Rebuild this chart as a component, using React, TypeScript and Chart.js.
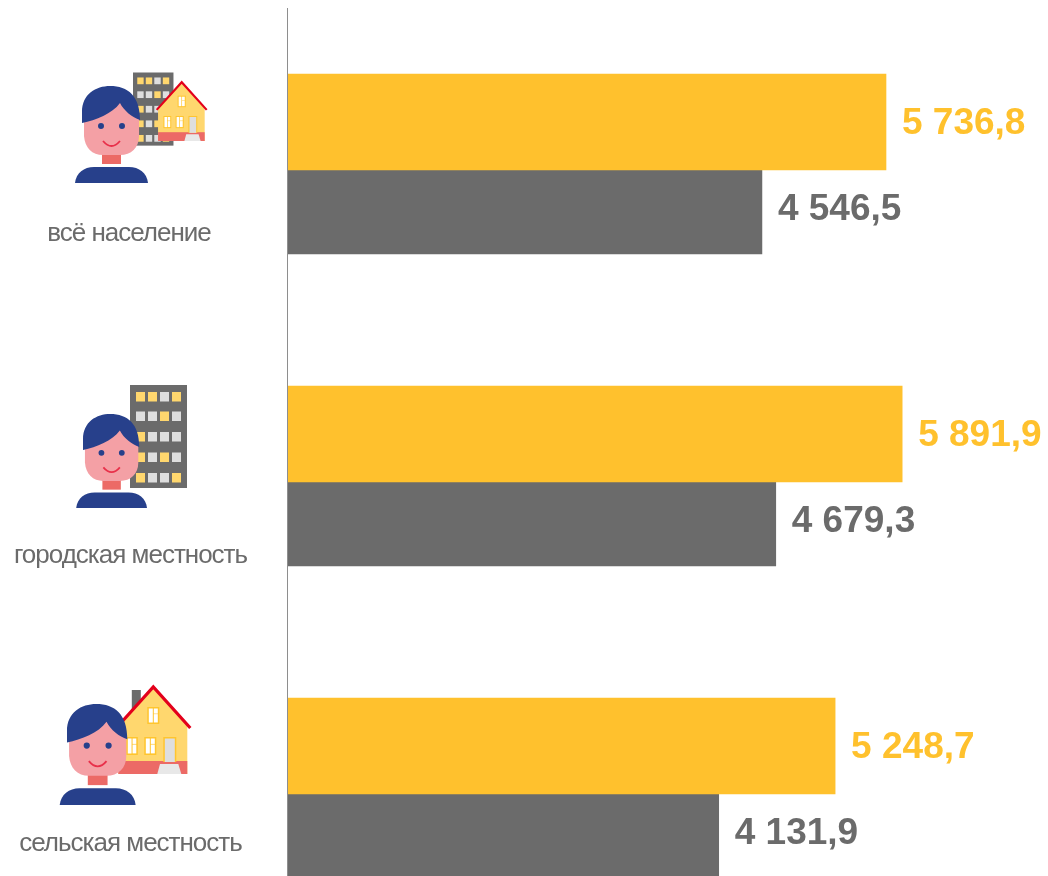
import React, { useEffect, useRef } from "react";
import { Chart, registerables } from "chart.js";

Chart.register(...registerables);

const categories = ["всё население", "городская местность", "сельская местность"];
const currentValues = [5736.8, 5891.9, 5248.7];
const previousValues = [4546.5, 4679.3, 4131.9];

const YELLOW = "#FFC12D";
const GRAY = "#6B6B6B";
const NAVY = "#27408B";
const SKIN = "#F4A0A5";
const CORAL = "#EC6A66";
const WINDOW_Y = "#FFD76E";
const WINDOW_G = "#DEDEDE";

const fmt = (v: number) => {
  const [a, b] = v.toFixed(1).split(".");
  return a.replace(/\B(?=(\d{3})+$)/g, " ") + "," + b;
};

type Ctx = CanvasRenderingContext2D;

function person(c: Ctx, x: number, y: number, s: number) {
  c.save();
  c.translate(x, y);
  c.scale(s, s);
  // neck
  c.fillStyle = CORAL;
  c.fillRect(20, 64, 19, 14);
  // face
  c.fillStyle = SKIN;
  c.beginPath();
  c.moveTo(2, 30);
  c.lineTo(38, 12);
  c.lineTo(57, 28);
  c.lineTo(57, 50);
  c.bezierCurveTo(57, 62, 49, 69, 38, 69);
  c.lineTo(21, 69);
  c.bezierCurveTo(10, 69, 3, 62, 2, 50);
  c.closePath();
  c.fill();
  // hair
  c.fillStyle = NAVY;
  c.beginPath();
  c.moveTo(0, 37);
  c.lineTo(0, 26);
  c.bezierCurveTo(0, 8, 14, 0, 28, 0);
  c.bezierCurveTo(46, 0, 58, 10, 58, 34);
  c.bezierCurveTo(50, 31, 42, 25, 38, 17);
  c.bezierCurveTo(30, 28, 14, 34, 0, 37);
  c.closePath();
  c.fill();
  // eyes
  c.beginPath();
  c.arc(19, 40, 3, 0, Math.PI * 2);
  c.arc(40, 40, 3, 0, Math.PI * 2);
  c.fill();
  // smile
  c.strokeStyle = "#E8304A";
  c.lineWidth = 1.8;
  c.beginPath();
  c.moveTo(21, 55);
  c.quadraticCurveTo(29.5, 65, 38, 55);
  c.stroke();
  // shoulders
  c.fillStyle = NAVY;
  c.beginPath();
  c.moveTo(-7, 97);
  c.bezierCurveTo(-6, 87, 2, 81, 12, 81);
  c.lineTo(47, 81);
  c.bezierCurveTo(57, 81, 65, 87, 66, 97);
  c.closePath();
  c.fill();
  c.restore();
}

const TOWER_ROWS = ["YYGY", "GGYG", "YGGG", "YGYG", "YGGY"];

function tower(c: Ctx, x: number, y: number, s: number) {
  c.save();
  c.translate(x, y);
  c.scale(s, s);
  c.fillStyle = GRAY;
  c.fillRect(0, 0, 57, 103);
  const cols = [6, 18, 30, 42];
  const rows = [7, 26.5, 47, 67.5, 88];
  rows.forEach((ry, r) =>
    cols.forEach((cx, i) => {
      c.fillStyle = TOWER_ROWS[r][i] === "Y" ? WINDOW_Y : WINDOW_G;
      c.fillRect(cx, ry, 9, 9.5);
    })
  );
  c.restore();
}

function houseWindow(c: Ctx, x: number, y: number, w: number, h: number) {
  c.fillStyle = "#FFC52E";
  c.fillRect(x, y, w, h);
  c.fillStyle = "#FFFFFF";
  c.fillRect(x + 1.5, y + 1.5, w / 2 - 2, h - 3);
  c.fillRect(x + w / 2 + 0.5, y + 1.5, w / 2 - 2, h * 0.3);
  c.fillRect(x + w / 2 + 0.5, y + h * 0.42, w / 2 - 2, h * 0.49);
}

function house(c: Ctx, x: number, y: number, s: number, chimney: boolean) {
  c.save();
  c.translate(x, y);
  c.scale(s, s);
  if (chimney) {
    c.fillStyle = GRAY;
    c.fillRect(-21.5, 4, 9, 22);
  }
  c.fillStyle = "#FFD76E";
  c.beginPath();
  c.moveTo(0, 0);
  c.lineTo(34, 39);
  c.lineTo(34, 88);
  c.lineTo(-35, 88);
  c.lineTo(-35, 39);
  c.closePath();
  c.fill();
  c.fillStyle = CORAL;
  c.fillRect(-35, 75, 69, 13);
  c.strokeStyle = "#E3001B";
  c.lineWidth = 3.2;
  c.beginPath();
  c.moveTo(-37, 42);
  c.lineTo(0, 1);
  c.lineTo(37, 42);
  c.stroke();
  houseWindow(c, -6, 21, 12, 17);
  houseWindow(c, -27, 51, 11.5, 18);
  houseWindow(c, -9, 51, 12, 18);
  // door
  c.fillStyle = "#FFC52E";
  c.fillRect(10, 51, 13, 25);
  c.fillStyle = "#DEDEDE";
  c.fillRect(11.5, 52.5, 10, 23.5);
  // steps
  c.fillStyle = "#E8E8E8";
  c.beginPath();
  c.moveTo(6.7, 78);
  c.lineTo(25, 78);
  c.lineTo(28, 88);
  c.lineTo(4, 88);
  c.closePath();
  c.fill();
  c.restore();
}

const labelDy = [64, 74, 50];
const labelX = [129, 130.5, 130.5];

const decorations = {
  id: "decorations",
  afterDatasetsDraw(chart: any) {
    const c: Ctx = chart.ctx;
    const yScale = chart.scales.y;
    const left = chart.chartArea.left;
    c.save();
    // axis line
    c.fillStyle = "#8E8E8E";
    c.fillRect(left - 1, 8, 1, 880);

    // value labels
    c.font = 'bold 37px "Liberation Sans", Arial, sans-serif';
    c.textBaseline = "middle";
    c.textAlign = "left";
    chart.data.datasets.forEach((ds: any, di: number) => {
      const meta = chart.getDatasetMeta(di);
      meta.data.forEach((bar: any, i: number) => {
        c.fillStyle = ds.backgroundColor;
        c.fillText(fmt(ds.data[i]), bar.x + 16, bar.y + (di === 0 ? 2 : -2));
      });
    });

    // category labels
    c.font = '26px "Liberation Sans", Arial, sans-serif';
    c.fillStyle = GRAY;
    c.textAlign = "center";
    (c as any).letterSpacing = "-1px";
    categories.forEach((name, i) => {
      c.fillText(name, labelX[i], yScale.getPixelForValue(i) + labelDy[i]);
    });
    (c as any).letterSpacing = "0px";

    // icons
    const y0 = yScale.getPixelForValue(0);
    tower(c, 133, y0 - 97.5, 0.71);
    house(c, 181.7, y0 - 88.5, 0.676, false);
    person(c, 82, y0 - 84, 1);

    const y1 = yScale.getPixelForValue(1);
    tower(c, 130, y1 - 97, 1);
    person(c, 83, y1 - 68, 0.97);

    const y2 = yScale.getPixelForValue(2);
    house(c, 153.3, y2 - 108, 1, true);
    person(c, 67, y2 - 90, 1.04);
    c.restore();
  },
};

export default function App() {
  const ref = useRef<HTMLCanvasElement>(null);
  useEffect(() => {
    document.body.style.margin = "0";
    document.body.style.background = "#FFFFFF";
    const chart = new Chart(ref.current as HTMLCanvasElement, {
      type: "bar",
      data: {
        labels: categories,
        datasets: [
          { label: "current", data: currentValues, backgroundColor: YELLOW, barThickness: 96, grouped: true },
          { label: "previous", data: previousValues, backgroundColor: GRAY, barThickness: 84, grouped: true },
        ],
      },
      options: {
        indexAxis: "y",
        responsive: false,
        animation: false,
        layout: { padding: { top: 14, left: 288, right: 0, bottom: 0 } },
        plugins: { legend: { display: false }, tooltip: { enabled: false } },
        scales: {
          x: { display: false, min: 0, max: 7291 },
          y: { display: false },
        },
      },
      plugins: [decorations],
    } as any);
    return () => chart.destroy();
  }, []);
  return (
    <div style={{ width: 1048, height: 876, overflow: "hidden" }}>
      <canvas ref={ref} width={1048} height={950} style={{ display: "block" }} />
    </div>
  );
}
